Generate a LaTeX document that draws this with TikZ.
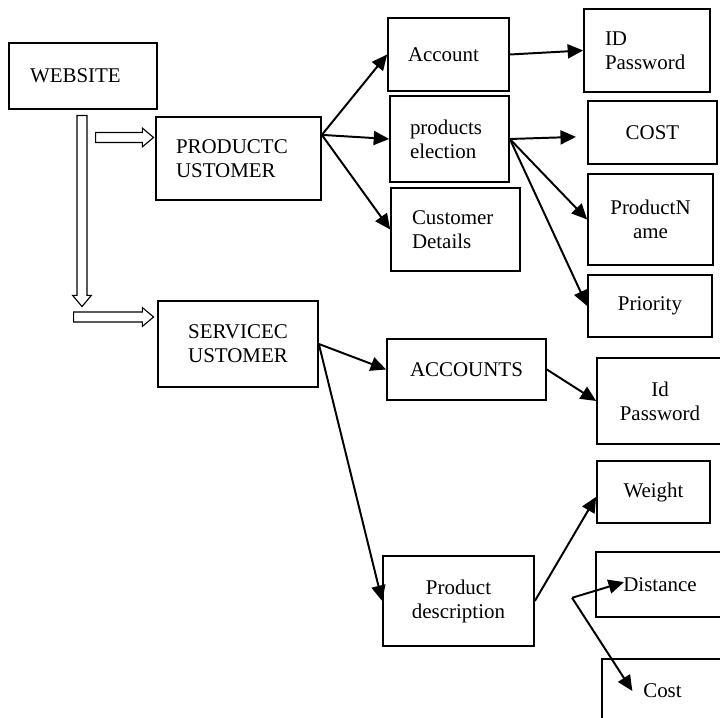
\documentclass[tikz,border=0pt]{standalone}
\usepackage{fontspec}
\setmainfont{Liberation Serif}
\usetikzlibrary{arrows.meta, shapes.arrows}

\begin{document}
\begin{tikzpicture}[
	box/.style={draw, line width=1.2pt, inner sep=0pt, font=\fontsize{14.9}{17.1}\selectfont},
	lbox/.style={box, align=left, inner xsep=0.5cm},
	cbox/.style={box, align=center},
	link/.style={line width=1.4pt, -{Triangle[length=11pt, width=10pt]}},
	fat/.style={single arrow, draw, line width=0.8pt, inner sep=0.11cm, minimum width=0pt, single arrow head extend=0.11cm, single arrow tip angle=80, anchor=tail}
]
	% Frame:
	\useasboundingbox (0, 0) rectangle (18, 17.95);

	% Boxes, left column:
	\node[lbox, text width=2.65cm, inner xsep=0.525cm, minimum height=1.65cm] (web) at (2.075, 16.05) {WEBSITE};
	\node[lbox, text width=3.125cm, minimum height=2.075cm] (pc) at (5.9625, 13.9875) {PRODUCTC\\USTOMER};
	\node[cbox, minimum width=4cm, minimum height=2.15cm] (sc) at (5.95, 9.35) {SERVICEC\\USTOMER};

	% Boxes, middle column:
	\node[lbox, text width=2.025cm, minimum height=1.825cm] (account) at (11.2125, 16.5875) {Account};
	\node[lbox, text width=1.975cm, minimum height=2.15cm] (prodsel) at (11.2375, 14.475) {products\\election};
	\node[lbox, text width=2.175cm, inner xsep=0.525cm, minimum height=2.075cm] (custdet) at (11.3875, 12.2125) {Customer\\Details};
	\node[cbox, minimum width=3.975cm, minimum height=1.525cm] (accounts) at (11.6625, 8.7125) {ACCOUNTS};
	\node[cbox, minimum width=3.775cm, minimum height=2.25cm] (pdesc) at (11.4625, 2.925) {Product\\description};

	% Boxes, right column:
	\node[lbox, text width=2.1cm, inner xsep=0.525cm, minimum height=2.075cm] (idpw) at (16.175, 16.6875) {ID\\Password};
	\node[cbox, minimum width=3.225cm, minimum height=1.575cm] (cost) at (16.3125, 14.6375) {COST};
	\node[cbox, minimum width=3.125cm, minimum height=2.275cm] (pname) at (16.2625, 12.4625) {ProductN\\ame};
	\node[cbox, minimum width=3.1cm, minimum height=1.55cm] (priority) at (16.25, 10.3) {Priority};
	\node[cbox, minimum width=3.15cm, minimum height=2.15cm] (idpw2) at (16.5, 7.925) {Id\\Password};
	\node[cbox, minimum width=2.825cm, minimum height=1.55cm] (weight) at (16.3375, 5.65) {Weight};
	\node[cbox, minimum width=3.2cm, minimum height=1.625cm] (distance) at (16.5, 3.3375) {Distance};
	\node[cbox, minimum width=3.025cm, minimum height=1.6cm] (cost2) at (16.5625, 0.675) {Cost};

	% Block arrows:
	\node[fat, rotate=-90, minimum height=4.775cm] (down) at (2.05, 15.075) {};
	\node[fat, minimum height=1.45cm] (toprod) at (2.375, 14.5125) {};
	\node[fat, minimum height=2cm] (toserv) at (1.825, 10.025) {};

	% Wires:
	\coordinate (pcout) at ([yshift=0.59cm]pc.east);
	\draw[link] (pcout) -- (account.west);
	\draw[link] (pcout) -- (prodsel.west);
	\draw[link] (pcout) -- (custdet.west);
	\draw[link] (account.east) -- (idpw.west);
	\draw[link] (prodsel.east) -- ([xshift=-0.28cm, yshift=-0.11cm]cost.west);
	\draw[link] (prodsel.east) -- (pname.west);
	\draw[link] (prodsel.east) -- (priority.west);
	\draw[link] (sc.east) -- (accounts.west);
	\draw[link] (sc.east) -- (pdesc.west);
	\draw[link] (accounts.east) -- (idpw2.west);
	\draw[link] (pdesc.east) -- ([yshift=-0.12cm]weight.west);
	\coordinate (split) at ([xshift=0.93cm, yshift=0.08cm]pdesc.east);
	\draw[link] (split) -- ([xshift=0.72cm, yshift=0.06cm]distance.west);
	\draw[link] (split) -- ([xshift=0.78cm]cost2.west);
\end{tikzpicture}
\end{document}
